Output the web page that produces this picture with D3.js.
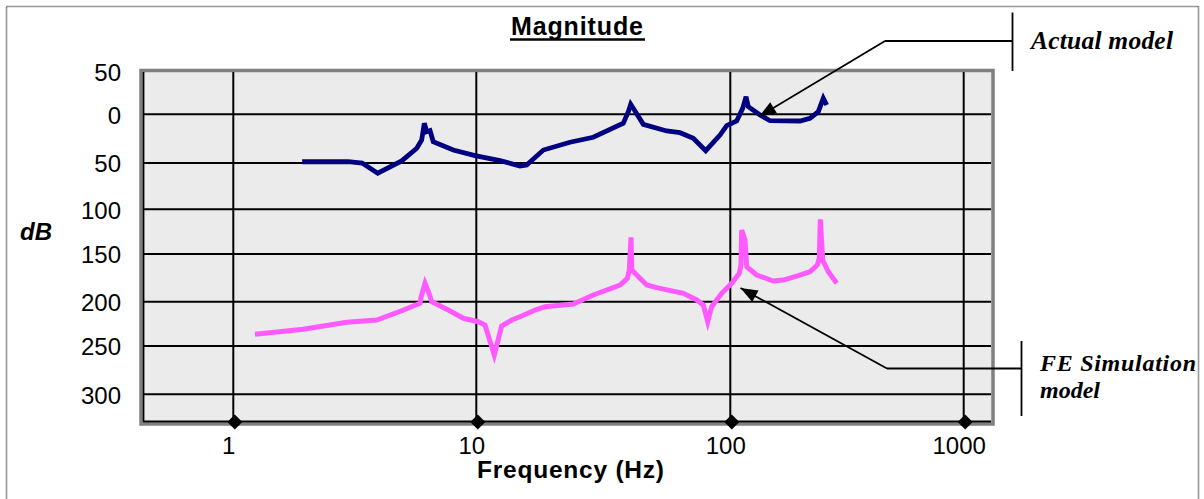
<!DOCTYPE html>
<html>
<head>
<meta charset="utf-8">
<script src="https://cdn.jsdelivr.net/npm/d3@7"></script>
<style>
  html, body { margin: 0; padding: 0; background: #ffffff; }
  svg { display: block; }
</style>
</head>
<body>
<svg id="chart" width="1204" height="499"></svg>
<script>
// ---------------- data ----------------
const xTickValues = [1, 10, 100, 1000];
const xTickLabels = ["1", "10", "100", "1000"];
const yTickValues = [50, 0, -50, -100, -150, -200, -250, -300];
const yTickLabels = ["50", "0", "50", "100", "150", "200", "250", "300"];

const actualFreq = [1.92, 2.97, 3.39, 3.93, 4.93, 5.69, 5.96, 6.11, 6.25, 6.45,
  6.65, 8.04, 9.88, 12.4, 14.86, 15.79, 18.36, 23.38, 28.88, 37.91,
  39.67, 40.54, 42.15, 45.45, 56.18, 63.39, 71.51, 80.03, 91.1, 96.78,
  106.5, 113.0, 116.8, 119.4, 134.1, 148.0, 198.9, 219.5, 238.2, 250.3, 258.8];
const actualDb = [-48.7, -48.5, -50, -61, -47.9, -34.9, -26.4, -9.2, -17.9, -16.8,
  -28.1, -36.7, -42.5, -47.6, -53.2, -52.2, -36.7, -28.7, -23.6, -9.2,
  3.1, 11.8, 3.9, -10.3, -17.1, -18.9, -24.6, -37.4, -21.3, -11.7,
  -6.9, 7.1, 20.8, 9.0, -0.7, -6.6, -6.9, -4.1, 3.1, 18.9, 11.0];

const feFreq = [1.228, 1.941, 2.928, 3.891, 4.932, 5.866, 5.922, 6.151, 6.389, 6.555,
  7.671, 8.843, 10.18, 10.82, 11.77, 12.59, 13.79, 15.09, 17.03, 18.64,
  24.09, 28.88, 36.8, 39.31, 40.03, 40.65, 40.93, 42.81, 46.87, 51.31,
  65.31, 73.75, 78.3, 81.47, 84.49, 92.5, 101.4, 109.3, 111.1, 111.9,
  115.6, 117.6, 129.7, 152.8, 168.7, 195.6, 219.5, 235.9, 240.6, 243.0,
  248.8, 263.0, 285.6];
const feDb = [-236.8, -231.2, -223.3, -220.7, -210.2, -201.8, -195.4, -180.7, -191.2, -200,
  -209.4, -218.7, -222.6, -226.3, -259.3, -227.4, -220.7, -216.1, -209.4, -205.6,
  -202.6, -193.0, -182.5, -175.5, -166.8, -131.3, -166.8, -172.0, -182.5, -185.3,
  -191.2, -198.2, -203.7, -222.6, -205.6, -191.2, -180.7, -170.2, -161.5, -123.2,
  -134.3, -163.3, -172.0, -178.3, -177.3, -172.7, -168.6, -161.5, -154.5, -111.2,
  -156.3, -168.6, -180.7];

const titleText = "Magnitude";
const xTitle = "Frequency (Hz)";
const yTitle = "dB";
const seriesNames = ["Actual model", "FE Simulation", "model"];

// ---------------- layout ----------------
const svg = d3.select("#chart");
const L = 143, R = 991, T = 72, B = 422;

// piecewise scales follow the (slightly uneven) grid of the original figure
const x = d3.scaleLog()
  .domain([0.425, 1, 10, 100, 1000, 1309])
  .range([L, 233.3, 476.3, 730.3, 963.7, R]);
const y = d3.scaleLinear()
  .domain([50, 0, -50, -100, -150, -200, -250, -300, -330])
  .range([T, 114.3, 163, 209.3, 254, 301.7, 346, 394.3, B]);

// outer dotted frame
svg.append("rect")
  .attr("x", 6.5).attr("y", 6.5).attr("width", 1192).attr("height", 520)
  .attr("fill", "none").attr("stroke", "#333").attr("stroke-width", 1.6)
  .attr("stroke-dasharray", "1,1");

// plot background and gray frame
svg.append("rect")
  .attr("x", L - 2).attr("y", T - 1.5).attr("width", R - L + 4).attr("height", B - T + 3.5)
  .attr("fill", "#ebebeb").attr("stroke", "#808080").attr("stroke-width", 3.5);

// gridlines
const g = svg.append("g");
g.selectAll("line.hg").data(yTickValues.filter(v => v < 50)).enter().append("line")
  .attr("x1", L).attr("x2", R)
  .attr("y1", d => y(d)).attr("y2", d => y(d))
  .attr("stroke", "#000").attr("stroke-width", 2);
g.selectAll("line.vg").data(xTickValues).enter().append("line")
  .attr("x1", d => x(d)).attr("x2", d => x(d))
  .attr("y1", T).attr("y2", B)
  .attr("stroke", "#000").attr("stroke-width", 2);
// axis lines
g.append("line").attr("x1", L + 0.5).attr("x2", L + 0.5).attr("y1", T).attr("y2", B)
  .attr("stroke", "#000").attr("stroke-width", 1.8);
g.append("line").attr("x1", L).attr("x2", R).attr("y1", B - 0.5).attr("y2", B - 0.5)
  .attr("stroke", "#000").attr("stroke-width", 1.8);

// diamond markers at x ticks
g.selectAll("path.dm").data(xTickValues).enter().append("path")
  .attr("d", d3.symbol().type(d3.symbolSquare).size(112))
  .attr("transform", d => `translate(${x(d) + 1.5},${B})rotate(45)`)
  .attr("fill", "#000");

// tick labels
svg.selectAll("text.xl").data(xTickValues).enter().append("text")
  .attr("x", d => x(d) - 4.5).attr("y", 454)
  .attr("text-anchor", "middle")
  .attr("font-family", "Liberation Sans, Arial, sans-serif")
  .attr("font-size", 24).attr("fill", "#000")
  .text((d, i) => xTickLabels[i]);
svg.selectAll("text.yl").data(yTickValues).enter().append("text")
  .attr("x", 121).attr("y", d => y(d) + 1)
  .attr("dy", "0.35em")
  .attr("text-anchor", "end")
  .attr("font-family", "Liberation Sans, Arial, sans-serif")
  .attr("font-size", 24).attr("fill", "#000")
  .text((d, i) => yTickLabels[i]);

// series
const line = d3.line().x(d => x(d[0])).y(d => y(d[1]));
svg.append("path")
  .datum(actualFreq.map((f, i) => [f, actualDb[i]]))
  .attr("d", line).attr("fill", "none")
  .attr("stroke", "#000080").attr("stroke-width", 4.8);
svg.append("path")
  .datum(feFreq.map((f, i) => [f, feDb[i]]))
  .attr("d", line).attr("fill", "none")
  .attr("stroke", "#ff5aff").attr("stroke-width", 5);

// titles
svg.append("text")
  .attr("x", 511).attr("y", 35)
  .attr("font-family", "Liberation Sans, Arial, sans-serif")
  .attr("font-weight", "bold").attr("font-size", 25)
  .attr("textLength", 132).attr("lengthAdjust", "spacing")
  .text(titleText);
svg.append("line").attr("x1", 510).attr("x2", 645).attr("y1", 39.5).attr("y2", 39.5)
  .attr("stroke", "#000").attr("stroke-width", 2.7);

svg.append("text")
  .attr("x", 477).attr("y", 478)
  .attr("font-family", "Liberation Sans, Arial, sans-serif")
  .attr("font-weight", "bold").attr("font-size", 24.5)
  .attr("textLength", 187).attr("lengthAdjust", "spacing")
  .text(xTitle);

svg.append("text")
  .attr("x", 20).attr("y", 240)
  .attr("font-family", "Liberation Sans, Arial, sans-serif")
  .attr("font-weight", "bold").attr("font-style", "italic").attr("font-size", 24)
  .text(yTitle);

// annotations
function arrow(x0, y0, x1, y1) {
  svg.append("line").attr("x1", x0).attr("y1", y0).attr("x2", x1).attr("y2", y1)
    .attr("stroke", "#000").attr("stroke-width", 1.8);
  const dx = x1 - x0, dy = y1 - y0, len = Math.hypot(dx, dy);
  const ux = dx / len, uy = dy / len, al = 17, aw = 6.5;
  const bx = x1 - ux * al, by = y1 - uy * al;
  svg.append("path")
    .attr("d", `M${x1},${y1}L${bx - uy * aw},${by + ux * aw}L${bx + uy * aw},${by - ux * aw}Z`)
    .attr("fill", "#000");
}
const serif = "Liberation Serif, Times New Roman, serif";

// Actual model bracket
svg.append("line").attr("x1", 1012.5).attr("x2", 1012.5).attr("y1", 12.5).attr("y2", 71)
  .attr("stroke", "#000").attr("stroke-width", 1.8);
svg.append("line").attr("x1", 885).attr("x2", 1012.5).attr("y1", 41).attr("y2", 41)
  .attr("stroke", "#000").attr("stroke-width", 1.8);
arrow(885, 41, 759, 116.5);
svg.append("text").attr("x", 1031).attr("y", 49)
  .attr("font-family", serif).attr("font-weight", "bold").attr("font-style", "italic")
  .attr("font-size", 25.5).attr("textLength", 142).attr("lengthAdjust", "spacing")
  .text(seriesNames[0]);

// FE Simulation model bracket
svg.append("line").attr("x1", 1021.5).attr("x2", 1021.5).attr("y1", 341).attr("y2", 416)
  .attr("stroke", "#000").attr("stroke-width", 1.8);
svg.append("line").attr("x1", 887).attr("x2", 1021.5).attr("y1", 368.5).attr("y2", 368.5)
  .attr("stroke", "#000").attr("stroke-width", 1.8);
arrow(887, 368.5, 740.5, 288);
svg.append("text").attr("x", 1040).attr("y", 370.5)
  .attr("font-family", serif).attr("font-weight", "bold").attr("font-style", "italic")
  .attr("font-size", 24).attr("textLength", 156).attr("lengthAdjust", "spacing")
  .text(seriesNames[1]);
svg.append("text").attr("x", 1040).attr("y", 398)
  .attr("font-family", serif).attr("font-weight", "bold").attr("font-style", "italic")
  .attr("font-size", 24)
  .text(seriesNames[2]);
</script>
</body>
</html>
